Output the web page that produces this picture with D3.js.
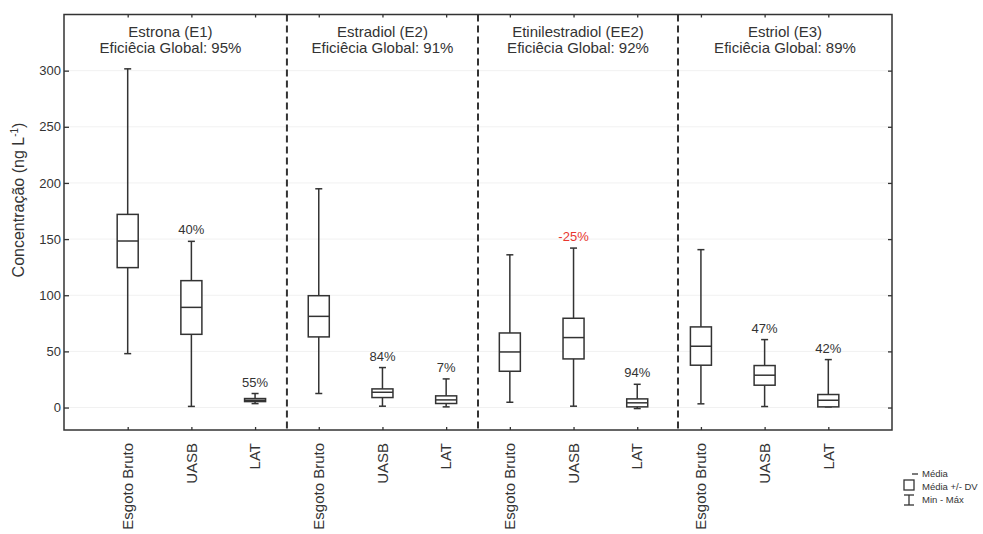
<!DOCTYPE html>
<html lang="pt">
<head>
    <meta charset="UTF-8">
    <title>Estrogênios - Concentração</title>
    <script src="https://d3js.org/d3.v7.min.js"></script>
    <style>
        body { margin: 0; background: #fff; }
        text { font-family: "Liberation Sans", Arial, sans-serif; fill: #333; }
    </style>
</head>
<body>
<div id="chart"></div>
<script>

// categories along the x axis (3 stages per compound)
let stages = ["Esgoto Bruto", "UASB", "LAT"]
let compounds = ["Estrona (E1)", "Estradiol (E2)", "Etinilestradiol (EE2)", "Estriol (E3)"]
let efficiency = ["95%", "91%", "92%", "89%"]

// values per box, in order E1 (EB, UASB, LAT), E2 ..., EE2 ..., E3 ...
let minVal  = [48, 1, 3.5,     12.5, 1.2, 0.6,    4.7, 1.2, -0.9,    3.3, 0.9, 0.6]
let lowVal  = [124.6, 65.2, 5.3,  62.9, 8.9, 3.6,  32.3, 43.3, 0.6,  37.7, 19.9, 0.6]   // média - DV
let meanVal = [148.3, 89.2, 6.5,  81.2, 13.6, 6.8, 49.5, 62.3, 4.2,  54.6, 28.8, 6.5]
let highVal = [172, 113, 8,       99.6, 16.6, 10.4, 66.4, 79.5, 7.7, 71.8, 37.4, 11.6]  // média + DV
let maxVal  = [301.6, 148, 12.5,  194.8, 35.6, 25.5, 136, 142, 20.7, 140.6, 60.5, 42.7]

// removal per stage (blank for raw sewage)
let removal = ["", "40%", "55%",  "", "84%", "7%",  "", "-25%", "94%",  "", "47%", "42%"]

// y ticks and panel separators (in category units)
let yTicks = [0, 50, 100, 150, 200, 250, 300]
let separators = [2.5, 5.5, 8.64]

let width = 983
    height = 534
    margin = {top: 14.5, right: 91, bottom: 104, left: 64}

let svg = d3.select("#chart")
  .append("svg")
    .attr("width", width)
    .attr("height", height)

let x = d3.scaleLinear()
    .domain([-1, stages.length * compounds.length])
    .range([margin.left, width - margin.right])

let y = d3.scaleLinear()
    .domain([-20, 350])
    .range([height - margin.bottom, margin.top])

let step = x(1) - x(0)
let boxW = step * 0.33
let capW = step * 0.11
let dark = "#333"

let boxes = meanVal.map(function(m, i) {
    return {i: i, min: minVal[i], lo: lowVal[i], mean: m, hi: highVal[i], max: maxVal[i],
            label: stages[i % 3], removal: removal[i]}
})

// light grid lines
svg.append("g")
  .selectAll("line")
  .data(yTicks)
  .join("line")
    .attr("x1", x.range()[0]).attr("x2", x.range()[1])
    .attr("y1", d => y(d)).attr("y2", d => y(d))
    .attr("stroke", "#f1f1f1")
    .attr("stroke-width", 1)

// axes with inward ticks
svg.append("g")
    .attr("transform", "translate(" + margin.left + ",0)")
    .call(d3.axisLeft(y).tickValues(yTicks).tickSize(-5).tickPadding(3))
    .call(g => g.select(".domain").remove())
    .call(g => g.selectAll("line").attr("stroke", dark).attr("stroke-width", 1.3))
    .call(g => g.selectAll("text").attr("font-size", 13).style("fill", dark).attr("font-family", null))

svg.append("g")
    .attr("transform", "translate(" + (width - margin.right) + ",0)")
    .call(d3.axisRight(y).tickValues(yTicks).tickSize(-4).tickFormat(""))
    .call(g => g.select(".domain").remove())
    .call(g => g.selectAll("line").attr("stroke", dark).attr("stroke-width", 1.3))

svg.append("g")
    .attr("transform", "translate(0," + (height - margin.bottom) + ")")
    .call(d3.axisBottom(x).tickValues(d3.range(12)).tickSize(-3).tickFormat(""))
    .call(g => g.select(".domain").remove())
    .call(g => g.selectAll("line").attr("stroke", dark).attr("stroke-width", 1.3))

svg.append("g")
    .attr("transform", "translate(0," + margin.top + ")")
    .call(d3.axisTop(x).tickValues(d3.range(12)).tickSize(-3).tickFormat(""))
    .call(g => g.select(".domain").remove())
    .call(g => g.selectAll("line").attr("stroke", dark).attr("stroke-width", 1.3))

// x category labels, rotated
svg.append("g")
  .selectAll("text")
  .data(boxes)
  .join("text")
    .attr("transform", d => "translate(" + x(d.i) + "," + (height - margin.bottom + 13) + ") rotate(-90)")
    .attr("text-anchor", "end")
    .attr("dy", "0.35em")
    .attr("font-size", 15)
    .text(d => d.label)

// panel separators
svg.append("g")
  .selectAll("line")
  .data(separators)
  .join("line")
    .attr("x1", d => x(d)).attr("x2", d => x(d))
    .attr("y1", margin.top).attr("y2", height - margin.bottom)
    .attr("stroke", dark)
    .attr("stroke-width", 2)
    .attr("stroke-dasharray", "7,4")

// whiskers
let bx = svg.append("g").selectAll("g").data(boxes).join("g")

bx.append("line")
    .attr("x1", d => x(d.i)).attr("x2", d => x(d.i))
    .attr("y1", d => y(d.max)).attr("y2", d => y(d.min))
    .attr("stroke", dark).attr("stroke-width", 1.5)

bx.selectAll(".cap")
  .data(d => [d.min, d.max].map(v => ({i: d.i, v: v})))
  .join("line")
    .attr("class", "cap")
    .attr("x1", d => x(d.i) - capW / 2).attr("x2", d => x(d.i) + capW / 2)
    .attr("y1", d => y(d.v)).attr("y2", d => y(d.v))
    .attr("stroke", dark).attr("stroke-width", 1.5)

// boxes (média +/- DV) and mean line
bx.append("rect")
    .attr("x", d => x(d.i) - boxW / 2)
    .attr("width", boxW)
    .attr("y", d => y(d.hi))
    .attr("height", d => y(d.lo) - y(d.hi))
    .attr("fill", "#fff")
    .attr("stroke", dark).attr("stroke-width", 1.5)

bx.append("line")
    .attr("x1", d => x(d.i) - boxW / 2).attr("x2", d => x(d.i) + boxW / 2)
    .attr("y1", d => y(d.mean)).attr("y2", d => y(d.mean))
    .attr("stroke", dark).attr("stroke-width", 1.5)

// removal labels above the whiskers
bx.filter(d => d.removal !== "")
  .append("text")
    .attr("x", d => x(d.i))
    .attr("y", d => y(d.max) - 7)
    .attr("text-anchor", "middle")
    .attr("font-size", 13)
    .style("fill", d => d.removal.startsWith("-") ? "#e8362f" : dark)
    .text(d => d.removal)

// panel titles (first panel sits a bit left of its middle)
let bounds = [x.domain()[0]].concat(separators, [x.domain()[1]])
let titles = svg.append("g").selectAll("text")
  .data(compounds)
  .join("text")
    .attr("text-anchor", "middle")
    .attr("font-size", 15)
    .attr("transform", (d, i) => "translate(" + ((x(bounds[i]) + x(bounds[i + 1])) / 2 - (i == 0 ? 5 : 0)) + ",37)")
titles.append("tspan").attr("x", 0).text(d => d)
titles.append("tspan").attr("x", 0).attr("dy", 16).text((d, i) => "Eficiêcia Global: " + efficiency[i])

// frame
svg.append("rect")
    .attr("x", x.range()[0]).attr("y", margin.top)
    .attr("width", x.range()[1] - x.range()[0])
    .attr("height", y.range()[0] - y.range()[1])
    .attr("fill", "none")
    .attr("stroke", dark).attr("stroke-width", 1.5)

// y axis title
let yTitle = svg.append("text")
    .attr("transform", "translate(24," + 200 + ") rotate(-90)")
    .attr("text-anchor", "middle")
    .attr("font-size", 16)
yTitle.append("tspan").text("Concentração (ng L")
yTitle.append("tspan").attr("dy", -6).attr("font-size", 10).text("-1")
yTitle.append("tspan").attr("dy", 6).text(")")

// legend
let lg = svg.append("g").attr("transform", "translate(904,474)")
lg.append("line").attr("x1", 8).attr("x2", 14).attr("y1", 0).attr("y2", 0)
    .attr("stroke", dark).attr("stroke-width", 1.3)
lg.append("rect").attr("x", 0).attr("y", 6).attr("width", 10).attr("height", 10)
    .attr("fill", "none").attr("stroke", dark).attr("stroke-width", 1.3)
lg.append("line").attr("x1", 5).attr("x2", 5).attr("y1", 21).attr("y2", 31)
    .attr("stroke", dark).attr("stroke-width", 1.3)
lg.append("line").attr("x1", 0).attr("x2", 10).attr("y1", 21).attr("y2", 21)
    .attr("stroke", dark).attr("stroke-width", 1.3)
lg.append("line").attr("x1", 0).attr("x2", 10).attr("y1", 31).attr("y2", 31)
    .attr("stroke", dark).attr("stroke-width", 1.3)
lg.selectAll("text")
  .data(["Média", "Média +/- DV", "Min - Máx"])
  .join("text")
    .attr("x", 18)
    .attr("y", (d, i) => i * 13)
    .attr("dy", "0.35em")
    .attr("font-size", 9.5)
    .text(d => d)

</script>
</body>
</html>
